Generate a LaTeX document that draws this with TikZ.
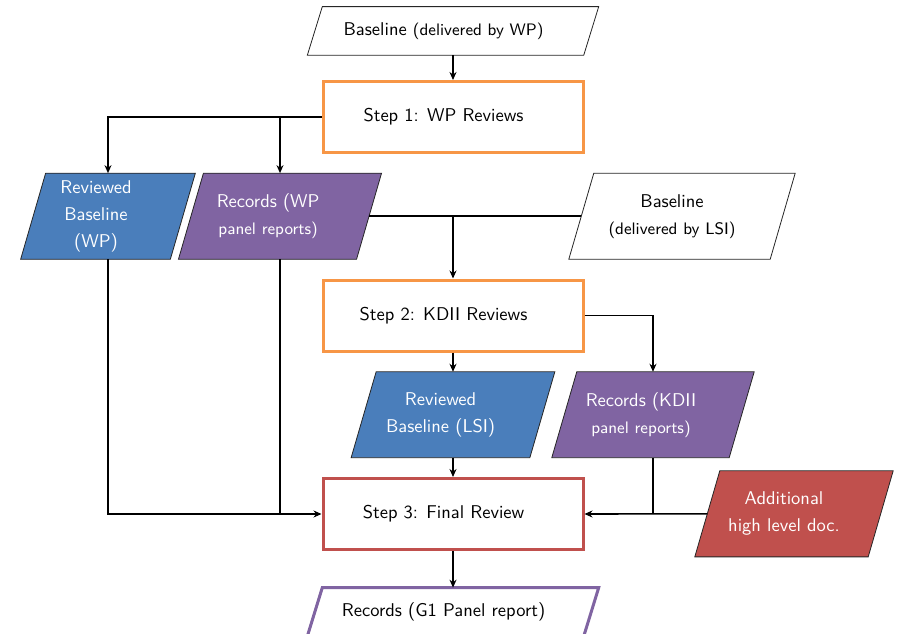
\documentclass[tikz,border=0pt]{standalone}
\usetikzlibrary{arrows.meta}
\definecolor{offblue}{HTML}{4A7EBB}
\definecolor{offpurple}{HTML}{8064A2}
\definecolor{offred}{HTML}{C0504D}
\definecolor{offorange}{HTML}{F79646}
\pgfdeclarelayer{background}
\pgfsetlayers{background,main}
\newcommand\smallpart{\fontsize{9}{14.6}\selectfont}
% parallelogram behind a node: the node spans the mid-height width,
% #3 is the horizontal slant of the sides
\newcommand\parashape[3][]{%
  \begin{pgfonlayer}{background}
    \path[parafill,#1] ([xshift=#3/2]#2.north west) -- ([xshift=#3/2]#2.north east)
      -- ([xshift=-#3/2]#2.south east) -- ([xshift=-#3/2]#2.south west) -- cycle;
  \end{pgfonlayer}}
\tikzset{
  txt/.style={font=\sffamily\fontsize{10}{14.6}\selectfont, scale=1.85,
    align=center, inner sep=0pt},
  para/.style={rectangle, draw=none, inner sep=0pt},
  parafill/.style={draw=black!85, line width=0.8pt, line join=miter},
  stepbox/.style={rectangle, minimum width=260pt, minimum height=71pt,
    line width=3pt, fill=white, inner sep=0pt},
  conn/.style={line width=1.6pt, black},
  arr/.style={conn, -{Stealth[length=8pt,width=7pt]}},
}
\begin{document}
\begin{tikzpicture}[x=1pt,y=-1pt]
\useasboundingbox (0,0) rectangle (897,634);
\clip (0,0) rectangle (897,634);
\begin{pgfonlayer}{background}
  \fill[white] (0,0) rectangle (897,634);
\end{pgfonlayer}

% inputs and steps
\node[para, minimum width=276pt, minimum height=48.3pt,
  label={[txt, xshift=-5.1pt]center:{Baseline {\smallpart(delivered by WP)}}}]
  (bwp) at (453,31) {};
\node[stepbox, draw=offorange,
  label={[txt, xshift=-5.1pt]center:{Step 1: WP Reviews}}]
  (step1) at (453,117) {};

\node[para, minimum width=149.3pt, minimum height=85.7pt,
  label={[txt, text=white, xshift=-6.5pt]center:{Reviewed\\Baseline\\(WP)}}]
  (rbwp) at (108,216.2) {};
\node[para, minimum width=177.7pt, minimum height=85.7pt,
  label={[txt, text=white, xshift=-6.4pt]center:{Records (WP\\{\smallpart panel reports)}}}]
  (rwp) at (280,216.2) {};
\node[para, minimum width=201pt, minimum height=85.7pt,
  label={[txt, xshift=-5.4pt]center:{Baseline\\{\smallpart(delivered by LSI)}}}]
  (blsi) at (682,216.2) {};

\node[stepbox, draw=offorange,
  label={[txt, xshift=-5.1pt]center:{Step 2: KDII Reviews}}]
  (step2) at (453,315.5) {};

\node[para, minimum width=178.3pt, minimum height=85.5pt,
  label={[txt, text=white, xshift=-6.7pt]center:{Reviewed\\Baseline (LSI)}}]
  (rblsi) at (453,414.7) {};
\node[para, minimum width=177pt, minimum height=85.5pt,
  label={[txt, text=white, xshift=-6.5pt]center:{Records (KDII\\{\smallpart panel reports)}}}]
  (rkdii) at (653,414.7) {};

\node[stepbox, draw=offred,
  label={[txt, xshift=-5.1pt]center:{Step 3: Final Review}}]
  (step3) at (453,514) {};
\node[para, minimum width=173pt, minimum height=85.7pt,
  label={[txt, text=white, xshift=-5.4pt]center:{Additional\\high level doc.}}]
  (add) at (794,513.8) {};

\node[para, minimum width=276pt, minimum height=48.3pt,
  label={[txt, xshift=-5.1pt]center:{Records (G1 Panel report)}}]
  (g1) at (453,612) {};

% parallelogram outlines
\parashape[fill=white]{bwp}{15}
\parashape[fill=offblue]{rbwp}{25}
\parashape[fill=offpurple]{rwp}{25}
\parashape[fill=white]{blsi}{25}
\parashape[fill=offblue]{rblsi}{25}
\parashape[fill=offpurple]{rkdii}{25}
\parashape[fill=offred]{add}{25}
\parashape[fill=white, draw=offpurple, line width=3pt]{g1}{15}

% connectors
\draw[arr] (bwp.south) -- (step1.north);
\draw[arr] (step1.west) -| (rbwp.north);
\draw[arr] (step1.west -| rwp.north) -- (rwp.north);
\draw[conn] (rwp.east) -- (blsi.west);
\draw[arr] (rwp.east -| step2.north) -- (step2.north);
\draw[arr] (step2.south) -- (rblsi.north);
\draw[arr] (step2.east) -| (rkdii.north);
\draw[arr] (rblsi.south) -- (step3.north);
\draw[arr] (rbwp.south) |- (step3.west);
\draw[conn] (rwp.south) -- (rwp.south |- step3.west);
\draw[arr] (add.west) -- (step3.east);
\draw[conn] (rkdii.south) -- (rkdii.south |- step3.east);
\draw[arr] (step3.south) -- (g1.north);
\end{tikzpicture}
\end{document}
